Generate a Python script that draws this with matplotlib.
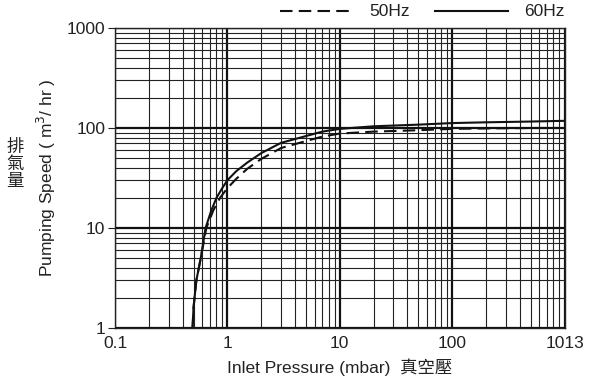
import matplotlib
matplotlib.use("Agg")
import matplotlib.pyplot as plt
from matplotlib.ticker import LogLocator, NullFormatter, FixedLocator, FixedFormatter
from matplotlib.lines import Line2D

# Data
p60 = [0.49, 0.50, 0.53, 0.58, 0.64, 0.72, 0.80, 0.90, 1.0, 1.2, 1.5, 2, 3, 5, 7, 10, 20, 50, 100, 200, 500, 1013]
s60 = [1.0, 1.6, 3.0, 5.0, 10, 15, 20, 25, 30, 37, 45, 56, 71, 83, 92, 98, 104, 108, 112, 114, 116, 118]
p50 = [0.49, 0.50, 0.53, 0.58, 0.65, 0.75, 0.86, 1.0, 1.2, 1.5, 2, 3, 5, 7, 10, 20, 50, 100, 200, 500, 900]
s50 = [1.0, 1.6, 3.0, 5.0, 10, 15, 20, 25, 31, 39, 49, 63, 74, 82, 88, 92, 95, 98, 99, 100, 100]

xticks = [0.1, 1, 10, 100, 1013]
xtick_labels = ["0.1", "1", "10", "100", "1013"]
yticks = [1, 10, 100, 1000]
ytick_labels = ["1", "10", "100", "1000"]

fam = ['Liberation Sans', 'Noto Sans CJK TC', 'DejaVu Sans']
plt.rcParams['font.family'] = fam
FS = 12.5

fig = plt.figure(figsize=(5.95, 3.82), dpi=100)
ax = fig.add_axes([115/595, 1 - 328/382, 450/595, 300/382])
ax.set_xscale('log')
ax.set_yscale('log')
ax.set_xlim(0.1, 1013)
ax.set_ylim(1, 1000)

ax.xaxis.set_minor_locator(LogLocator(base=10, subs=range(2, 10), numticks=20))
ax.yaxis.set_minor_locator(LogLocator(base=10, subs=range(2, 10), numticks=20))
ax.xaxis.set_minor_formatter(NullFormatter())
ax.yaxis.set_minor_formatter(NullFormatter())
ax.grid(True, which='minor', color='#222222', lw=0.8)
ax.grid(True, which='major', color='#111111', lw=1.6)

ax.xaxis.set_major_locator(FixedLocator(xticks))
ax.xaxis.set_major_formatter(FixedFormatter(xtick_labels))
ax.yaxis.set_major_locator(FixedLocator(yticks))
ax.yaxis.set_major_formatter(FixedFormatter(ytick_labels))
ax.tick_params(axis='x', which='both', length=0, labelsize=FS, pad=6, colors='#222222')
ax.tick_params(axis='y', which='major', length=5, width=0.8, labelsize=FS, pad=2, colors='#222222')
ax.tick_params(axis='y', which='minor', length=0)
for s in ax.spines.values():
    s.set_color('#222222')
    s.set_linewidth(1.0)

ax.plot(p50, s50, color='#111111', lw=1.5, ls=(0, (6, 3)))
ax.plot(p60, s60, color='#111111', lw=1.5, ls='-')

ax.set_xlabel("Inlet Pressure (mbar)  真空壓", fontsize=FS, color='#222222', labelpad=5)
ax.set_ylabel("Pumping Speed ( m$^3$/ hr )", fontsize=FS, color='#222222', labelpad=6)

fig.text(15/595, 1 - 164/382, "排\n氣\n量", fontsize=12.5, ha='center', va='center',
         linespacing=0.95, color='#222222', family=['Noto Sans CJK TC'])

# legend
fig.add_artist(Line2D([280/595, 352/595], [1 - 11/382] * 2, color='#111111', lw=1.5, ls=(0, (6, 3))))
fig.text(369/595, 1 - 11/382, "50Hz", fontsize=FS, va='center', ha='left', color='#222222')
fig.add_artist(Line2D([435/595, 508/595], [1 - 11/382] * 2, color='#111111', lw=1.5))
fig.text(524/595, 1 - 11/382, "60Hz", fontsize=FS, va='center', ha='left', color='#222222')

fig.savefig("out.png", dpi=100)
